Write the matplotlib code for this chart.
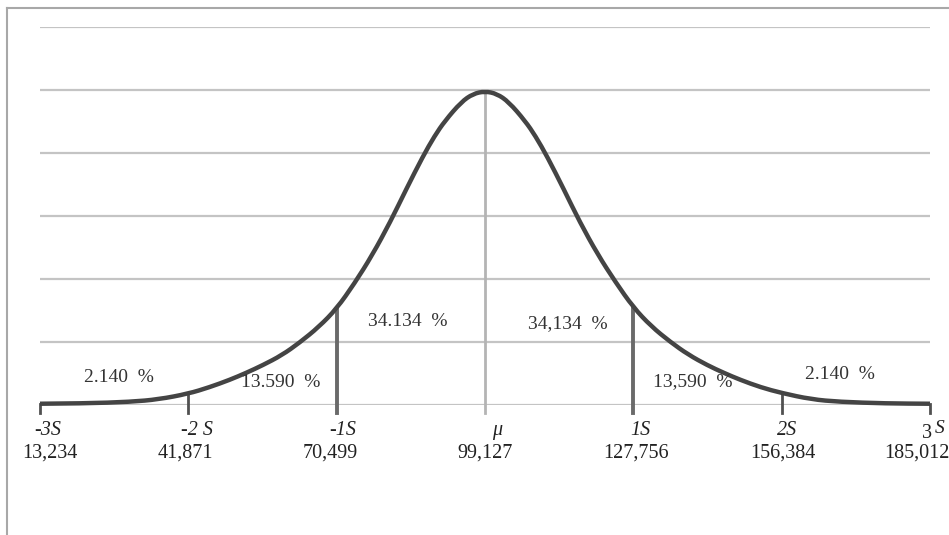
import matplotlib
matplotlib.use("Agg")
import matplotlib.pyplot as plt
from matplotlib.lines import Line2D
from matplotlib.path import Path
from matplotlib.patches import PathPatch

plt.rcParams['font.family'] = ['Liberation Serif', 'DejaVu Serif']

# curve (x in multiples of s, y in grid units)
curve_x = [-3.00, -2.70, -2.39, -2.20, -2.00, -1.86, -1.72, -1.61, -1.50, -1.37, -1.25, -1.12,
           -1.00, -0.88, -0.76, -0.64, -0.53, -0.42, -0.34, -0.27, -0.16, -0.08, 0.00,
           0.08, 0.16, 0.27, 0.34, 0.42, 0.53, 0.64, 0.76, 0.88, 1.00, 1.12, 1.25,
           1.37, 1.50, 1.61, 1.72, 1.86, 2.00, 2.20, 2.39, 2.70, 3.00]
curve_y = [0.02, 0.025, 0.05, 0.09, 0.18, 0.28, 0.40, 0.51, 0.63, 0.79, 0.99, 1.24,
           1.53, 1.93, 2.38, 2.90, 3.43, 3.94, 4.27, 4.51, 4.81, 4.94, 4.98,
           4.94, 4.81, 4.51, 4.27, 3.94, 3.43, 2.90, 2.39, 1.95, 1.55, 1.25, 1.00,
           0.80, 0.63, 0.51, 0.40, 0.28, 0.19, 0.09, 0.05, 0.025, 0.02]

sigma_pos = [-3, -2, -1, 0, 1, 2, 3]
sigma_labels = ['-3S', '-2 S', '-1S', 'μ', '1S', '2S', '3S']
value_labels = ['13,234', '41,871', '70,499', '99,127', '127,756', '156,384', '185,012']
drop_heights = [0.02, 0.18, 1.53, 4.98, 1.55, 0.19, 0.02]

pct_labels = ['2.140  %', '13.590  %', '34.134  %', '34,134  %', '13,590  %', '2.140  %']
pct_x = [-2.47, -1.38, -0.52, 0.56, 1.40, 2.39]
pct_y = [0.43, 0.35, 1.33, 1.30, 0.37, 0.48]

fig = plt.figure(figsize=(9.49, 5.35), dpi=100)
ax = fig.add_axes([40/949, 130/535, 890/949, 378/535])
ax.set_xlim(-3, 3)
ax.set_ylim(0, 6)
ax.axis('off')

# gridlines
for g in range(0, 7):
    ax.axhline(g, color='#c4c4c4', lw=1.6, zorder=1)

# drop lines
for xp, h in zip(sigma_pos, drop_heights):
    if xp == 0:
        ax.plot([xp, xp], [-0.12, h], color='#b4b4b4', lw=2, zorder=2, clip_on=False)
    elif abs(xp) == 1:
        ax.plot([xp, xp], [-0.12, h], color='#6a6a6a', lw=2.8, zorder=2, clip_on=False)
    else:
        ax.plot([xp, xp], [-0.12, h], color='#505050', lw=2, zorder=2, clip_on=False)

# smooth line through the read points (quadratic segments between midpoints)
pts = list(zip(curve_x, curve_y))
verts = [pts[0]]
codes = [Path.MOVETO]
for i in range(1, len(pts) - 1):
    mid = ((pts[i][0] + pts[i + 1][0]) / 2, (pts[i][1] + pts[i + 1][1]) / 2)
    verts += [pts[i], mid]
    codes += [Path.CURVE3, Path.CURVE3]
verts.append(pts[-1])
codes.append(Path.LINETO)
ax.add_patch(PathPatch(Path(verts, codes), fill=False, edgecolor='#444444', lw=3.2,
                       zorder=3, capstyle='butt', joinstyle='round', clip_on=False))

for t, xp, yp in zip(pct_labels, pct_x, pct_y):
    ax.text(xp, yp, t, ha='center', va='center', fontsize=14, color='#333333')

row1_x = [-2.95, -1.94, -0.96, 0.08, 1.05, 2.04]
for t, xp in zip(sigma_labels[:-1], row1_x):
    ax.text(xp, -0.41, t, ha='center', va='center', fontsize=14.5, style='italic',
            color='#222222', clip_on=False)
# the last one has a lowered 3 and a raised S
ax.text(2.98, -0.45, '3', ha='center', va='center', fontsize=14.5, color='#222222', clip_on=False)
ax.text(3.065, -0.37, 'S', ha='center', va='center', fontsize=14, style='italic',
        color='#222222', clip_on=False)

row2_x = [-2.93, -2.02, -1.04, 0.0, 1.02, 2.01, 2.91]
for t, xp in zip(value_labels, row2_x):
    ax.text(xp, -0.76, t, ha='center', va='center', fontsize=14.5, color='#222222',
            clip_on=False)

# frame of the picture
fig.add_artist(Line2D([7/949, 7/949], [0, 1 - 8/535], transform=fig.transFigure,
                      color='#a8a8a8', lw=1.5))
fig.add_artist(Line2D([7/949, 1], [1 - 8/535, 1 - 8/535], transform=fig.transFigure,
                      color='#a8a8a8', lw=1.5))

fig.savefig('out.png', dpi=100)
